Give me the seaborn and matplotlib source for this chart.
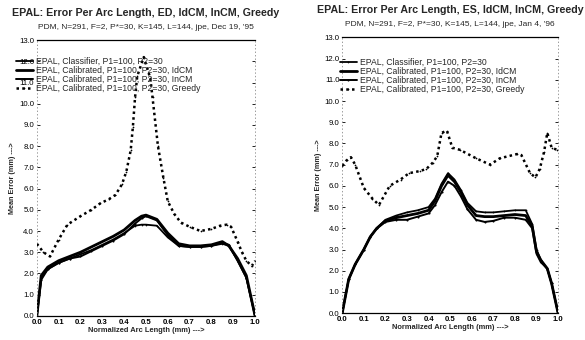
import numpy as np
import pandas as pd
import seaborn as sns
import matplotlib
matplotlib.use("Agg")
import matplotlib.pyplot as plt

sns.set_theme(style="white")
plt.rcParams['font.family'] = ['Liberation Sans', 'DejaVu Sans']

labels = ["EPAL, Classifier, P1=100, P2=30",
          "EPAL, Calibrated, P1=100, P2=30, IdCM",
          "EPAL, Calibrated, P1=100, P2=30, InCM",
          "EPAL, Calibrated, P1=100, P2=30, Greedy"]

# ---- Left panel (ED) ----
ed_x = [0.0, 0.02, 0.05, 0.1, 0.15, 0.2, 0.25, 0.3, 0.35, 0.4, 0.45, 0.48, 0.5, 0.55,
        0.6, 0.65, 0.7, 0.75, 0.8, 0.85, 0.88, 0.92, 0.96, 1.0]
ed_classifier = [0.0, 1.8, 2.2, 2.5, 2.7, 2.9, 3.1, 3.35, 3.6, 3.9, 4.25, 4.3, 4.3, 4.25,
                 3.7, 3.3, 3.25, 3.25, 3.3, 3.4, 3.3, 2.6, 1.8, 0.0]
ed_idcm = [0.0, 1.9, 2.3, 2.6, 2.8, 3.0, 3.25, 3.5, 3.75, 4.05, 4.5, 4.7, 4.75, 4.55,
           3.9, 3.4, 3.3, 3.3, 3.35, 3.5, 3.3, 2.7, 1.9, 0.0]
ed_incm = [0.0, 1.7, 2.2, 2.5, 2.7, 2.8, 3.05, 3.3, 3.55, 3.85, 4.35, 4.6, 4.7, 4.5,
           3.8, 3.3, 3.25, 3.25, 3.3, 3.45, 3.35, 2.6, 1.8, 0.0]
ed_greedy_x = [0.0, 0.03, 0.06, 0.1, 0.14, 0.2, 0.25, 0.29, 0.33, 0.36, 0.39, 0.41, 0.43,
               0.44, 0.45, 0.46, 0.49, 0.52, 0.53, 0.555, 0.58, 0.6, 0.63, 0.66, 0.7,
               0.75, 0.8, 0.84, 0.87, 0.89, 0.92, 0.94, 0.96, 0.985, 1.0]
ed_greedy = [3.4, 3.0, 2.8, 3.6, 4.3, 4.7, 5.0, 5.3, 5.5, 5.7, 6.2, 6.8, 7.8, 8.9, 10.3,
             11.3, 12.2, 11.2, 10.3, 8.0, 6.5, 5.4, 4.8, 4.4, 4.2, 4.0, 4.1, 4.25, 4.3,
             4.2, 3.5, 3.0, 2.6, 2.35, 2.6]

# ---- Right panel (ES) ----
es_x = [0.0, 0.03, 0.06, 0.1, 0.13, 0.16, 0.2, 0.25, 0.3, 0.35, 0.4, 0.43, 0.46, 0.49,
        0.52, 0.55, 0.58, 0.62, 0.66, 0.7, 0.75, 0.8, 0.85, 0.88, 0.9, 0.92, 0.95, 0.97, 1.0]
es_classifier = [0.0, 1.6, 2.3, 3.0, 3.6, 4.0, 4.4, 4.6, 4.75, 4.85, 5.0, 5.4, 6.1, 6.6,
                 6.3, 5.8, 5.2, 4.8, 4.75, 4.75, 4.8, 4.85, 4.85, 4.2, 3.0, 2.5, 2.1, 1.4, 0.0]
es_idcm = [0.0, 1.6, 2.3, 3.0, 3.6, 4.0, 4.35, 4.5, 4.6, 4.7, 4.85, 5.3, 6.0, 6.5,
           6.2, 5.7, 5.1, 4.6, 4.55, 4.55, 4.6, 4.65, 4.6, 4.1, 2.9, 2.5, 2.1, 1.4, 0.0]
es_incm = [0.0, 1.6, 2.3, 3.0, 3.6, 4.0, 4.3, 4.4, 4.4, 4.55, 4.7, 5.1, 5.7, 6.2,
           6.0, 5.5, 4.9, 4.4, 4.3, 4.35, 4.5, 4.5, 4.4, 4.0, 2.8, 2.4, 2.1, 1.4, 0.0]
es_greedy_x = [0.0, 0.02, 0.04, 0.06, 0.1, 0.14, 0.17, 0.22, 0.27, 0.31, 0.36, 0.39, 0.42,
               0.44, 0.46, 0.485, 0.51, 0.545, 0.62, 0.685, 0.73, 0.81, 0.83, 0.87, 0.895,
               0.915, 0.935, 0.95, 0.97, 0.995]
es_greedy = [6.95, 7.2, 7.35, 7.0, 5.9, 5.4, 5.1, 6.0, 6.3, 6.6, 6.7, 6.8, 7.1, 7.4, 8.5,
             8.6, 7.8, 7.7, 7.3, 7.0, 7.3, 7.5, 7.45, 6.6, 6.4, 6.8, 7.6, 8.5, 7.8, 7.7]

x_ticks = [0.0, 0.1, 0.2, 0.3, 0.4, 0.5, 0.6, 0.7, 0.8, 0.9, 1.0]
y_ticks = [0.0, 1.0, 2.0, 3.0, 4.0, 5.0, 6.0, 7.0, 8.0, 9.0, 10.0, 11.0, 12.0, 13.0]

titles = ["EPAL: Error Per Arc Length, ED, IdCM, InCM, Greedy",
          "EPAL: Error Per Arc Length, ES, IdCM, InCM, Greedy"]
subtitles = ["PDM, N=291, F=2, P*=30, K=145, L=144, jpe, Dec 19, '95",
             "PDM, N=291, F=2, P*=30, K=145, L=144, jpe, Jan 4, '96"]

fig = plt.figure(figsize=(5.85, 3.4), dpi=100)
ax1 = fig.add_axes([0.063, 0.071, 0.373, 0.811])
ax2 = fig.add_axes([0.585, 0.079, 0.369, 0.811])

styles = [dict(lw=1.3, ls='-', marker='.', ms=2.5),
          dict(lw=2.0, ls='-'),
          dict(lw=1.4, ls='-', marker='.', ms=3),
          dict(lw=1.8, ls=(0, (1, 1.3)), marker='.', ms=2.5)]

panels = [(ax1, ed_x, [ed_classifier, ed_idcm, ed_incm], ed_greedy_x, ed_greedy),
          (ax2, es_x, [es_classifier, es_idcm, es_incm], es_greedy_x, es_greedy)]

for i, (ax, xm, ys, gx, gy) in enumerate(panels):
    for j, y in enumerate(ys):
        sns.lineplot(x=xm, y=y, ax=ax, color='black', label=labels[j],
                     linestyle=styles[j]['ls'], linewidth=styles[j]['lw'],
                     marker=styles[j].get('marker'), markersize=styles[j].get('ms', 0),
                     markeredgewidth=0)
    sns.lineplot(x=gx, y=gy, ax=ax, color='black', label=labels[3],
                 linestyle=styles[3]['ls'], linewidth=styles[3]['lw'],
                 marker=styles[3]['marker'], markersize=styles[3]['ms'], markeredgewidth=0)
    ax.set_xlim(0, 1.0)
    ax.set_ylim(0, 13.0)
    ax.set_xticks(x_ticks)
    ax.set_xticklabels([f"{t:.1f}" for t in x_ticks], fontsize=5.6, fontweight='bold')
    ax.set_yticks(y_ticks)
    ax.set_yticklabels([f"{t:.1f}" for t in y_ticks], fontsize=5.6)
    ax.tick_params(axis='both', which='both', length=2, width=0.6, pad=2,
                   direction='in', colors='black')
    ax.tick_params(axis='y', right=True, left=True)
    ax.set_xlabel("Normalized Arc Length (mm) --->", fontsize=5.4, fontweight='bold', labelpad=1)
    ax.set_ylabel("Mean Error (mm) --->", fontsize=5.2, fontweight='bold', labelpad=2)
    for s in ['top', 'bottom']:
        ax.spines[s].set_color('black')
        ax.spines[s].set_linewidth(0.9)
    for s in ['left', 'right']:
        ax.spines[s].set_color('0.45')
        ax.spines[s].set_linewidth(0.5)
        ax.spines[s].set_linestyle((0, (1, 4)))
    ax.grid(False)
    cx = 0.063 + 0.373 / 2 if i == 0 else 0.585 + 0.369 / 2
    ty = 0.963 if i == 0 else 0.972
    fig.text(cx, ty, titles[i], ha='center', va='center', fontsize=7.7, fontweight='bold')
    fig.text(cx, ty - 0.045, subtitles[i], ha='center', va='center', fontsize=6.0)
    leg_x = 0.027 if i == 0 else 0.581
    leg_y = 0.832 if i == 0 else 0.829
    leg = ax.legend(loc='upper left', bbox_to_anchor=(leg_x, leg_y),
                    bbox_transform=fig.transFigure, frameon=False, fontsize=6.2,
                    handlelength=2.0, handletextpad=0.3, labelspacing=0.0,
                    borderpad=0, borderaxespad=0)

fig.savefig("out.png", dpi=100)
